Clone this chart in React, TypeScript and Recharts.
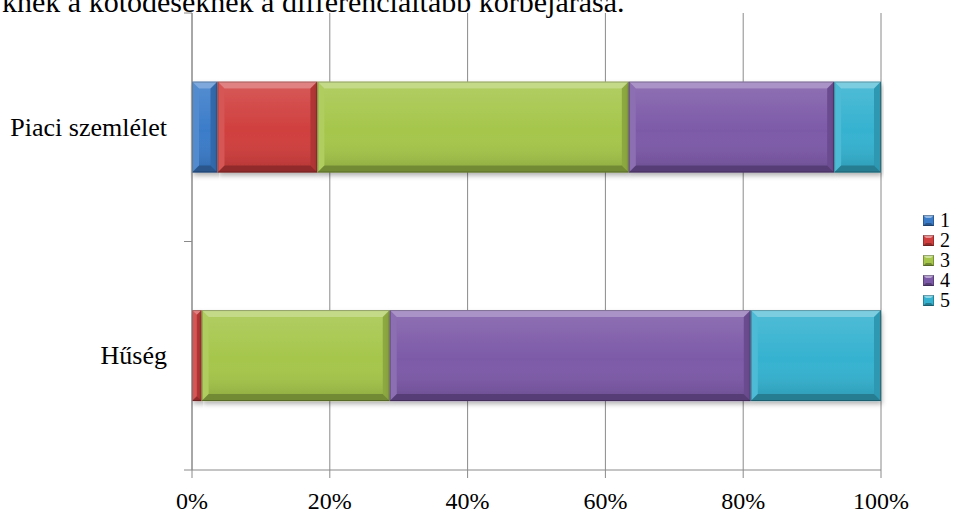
import React from "react";
import { BarChart, Bar, XAxis, YAxis, CartesianGrid } from "recharts";

const categories = ["Piaci szemlélet", "Hűség"];
const seriesNames = ["1", "2", "3", "4", "5"];
const piaciValues = [3.7, 14.5, 45.2, 29.8, 6.8];
const husegValues = [0, 1.4, 27.3, 52.4, 18.9];
const xTicks = [0, 20, 40, 60, 80, 100];
const seriesColors = ["#3B7CC9", "#D03F3E", "#A5C64B", "#7D5AA8", "#35B2D0"];

const values = [piaciValues, husegValues];
const data = categories.map((name, i) => {
  const row: Record<string, string | number> = { name };
  seriesNames.forEach((s, j) => {
    row["s" + s] = values[i][j];
  });
  return row;
});

const W = 958;
const H = 512;
const PLOT_TOP = 13;
const PLOT_BOTTOM = 470;
const AXIS_X = 192;
const FONT = "'Liberation Serif', 'Times New Roman', serif";
const GRID = "#8a8a8a";
const band = (PLOT_BOTTOM - PLOT_TOP) / categories.length;

function BevelRect(props: any) {
  const { x, y, width, height, color } = props;
  if (!width || width <= 0 || !height) return null;
  const b = Math.min(7, width / 2, height / 2);
  const x2 = x + width;
  const y2 = y + height;
  return (
    <g filter="url(#barShadow)">
      <rect x={x} y={y} width={width} height={height} fill={color} />
      <rect
        x={x + b}
        y={y + b}
        width={Math.max(0, width - 2 * b)}
        height={Math.max(0, height - 2 * b)}
        fill="url(#faceShade)"
      />
      <polygon
        points={`${x},${y} ${x2},${y} ${x2 - b},${y + b} ${x + b},${y + b}`}
        fill="#fff"
        fillOpacity={0.35}
      />
      <polygon
        points={`${x},${y} ${x + b},${y + b} ${x + b},${y2 - b} ${x},${y2}`}
        fill="#fff"
        fillOpacity={0.12}
      />
      <polygon
        points={`${x2},${y} ${x2},${y2} ${x2 - b},${y2 - b} ${x2 - b},${y + b}`}
        fill="#000"
        fillOpacity={0.15}
      />
      <polygon
        points={`${x},${y2} ${x + b},${y2 - b} ${x2 - b},${y2 - b} ${x2},${y2}`}
        fill="#000"
        fillOpacity={0.3}
      />
      <rect
        x={x + 0.5}
        y={y + 0.5}
        width={Math.max(0, width - 1)}
        height={height - 1}
        fill="none"
        stroke="#000"
        strokeOpacity={0.25}
      />
    </g>
  );
}

// category label plus the tick marks at the band edges
function CategoryTick(props: any) {
  const { x, y, payload } = props;
  return (
    <g>
      <line x1={AXIS_X - 8} x2={AXIS_X} y1={y - band / 2} y2={y - band / 2} stroke={GRID} />
      <line x1={AXIS_X - 8} x2={AXIS_X} y1={y + band / 2} y2={y + band / 2} stroke={GRID} />
      <text x={x} y={y} dy="0.32em" textAnchor="end" style={{ fontFamily: FONT, fontSize: 26 }} fill="#000">
        {payload.value}
      </text>
    </g>
  );
}

function LegendBox({ color }: { color: string }) {
  return (
    <svg width={11} height={11} style={{ display: "block" }}>
      <rect x={0} y={0} width={11} height={11} fill={color} />
      <polygon points="0,0 11,0 8,3 3,3" fill="#fff" fillOpacity={0.45} />
      <polygon points="0,11 3,8 8,8 11,11" fill="#000" fillOpacity={0.3} />
      <rect x={0.5} y={0.5} width={10} height={10} fill="none" stroke="#000" strokeOpacity={0.25} />
    </svg>
  );
}

export default function App() {
  return (
    <div
      style={{
        position: "absolute",
        left: 0,
        top: 0,
        width: W,
        height: H,
        overflow: "hidden",
        background: "#fff",
        fontFamily: FONT,
      }}
    >
      <div
        style={{
          position: "absolute",
          left: 2,
          top: -13,
          fontSize: 30,
          lineHeight: "30px",
          whiteSpace: "nowrap",
          color: "#000",
        }}
      >
        knek a kötődéseknek a differenciáltabb körbejárása.
      </div>
      <BarChart
        width={W}
        height={H}
        data={data}
        layout="vertical"
        barCategoryGap="30%"
        margin={{ top: PLOT_TOP, right: W - 881, bottom: 0, left: 0 }}
      >
        <defs>
          <linearGradient id="faceShade" x1="0" y1="0" x2="0" y2="1">
            <stop offset="0%" stopColor="#fff" stopOpacity={0.12} />
            <stop offset="55%" stopColor="#fff" stopOpacity={0} />
            <stop offset="100%" stopColor="#000" stopOpacity={0.1} />
          </linearGradient>
          <filter id="barShadow" x="-5%" y="-10%" width="110%" height="135%">
            <feDropShadow dx="1" dy="3" stdDeviation="2.5" floodColor="#000" floodOpacity={0.3} />
          </filter>
        </defs>
        <CartesianGrid horizontal={false} stroke={GRID} />
        <XAxis
          type="number"
          domain={[0, 100]}
          ticks={xTicks}
          tickFormatter={(v) => `${v}%`}
          height={H - PLOT_BOTTOM}
          axisLine={{ stroke: GRID }}
          tickLine={{ stroke: GRID }}
          tickSize={8}
          tickMargin={14}
          tick={{ fontSize: 24, fill: "#000", style: { fontFamily: FONT } }}
        />
        <YAxis
          type="category"
          dataKey="name"
          width={AXIS_X}
          axisLine={{ stroke: GRID }}
          tickLine={false}
          tickSize={8}
          tickMargin={17}
          tick={<CategoryTick />}
          interval={0}
        />
        {seriesNames.map((s, i) => (
          <Bar
            key={s}
            dataKey={"s" + s}
            name={s}
            stackId="a"
            fill={seriesColors[i]}
            isAnimationActive={false}
            shape={(p: any) => <BevelRect {...p} color={seriesColors[i]} />}
          />
        ))}
      </BarChart>
      <div style={{ position: "absolute", left: 923, top: 210, fontSize: 20 }}>
        {seriesNames.map((s, i) => (
          <div key={s} style={{ display: "flex", alignItems: "center", height: 20 }}>
            <LegendBox color={seriesColors[i]} />
            <span style={{ marginLeft: 6, lineHeight: "20px" }}>{s}</span>
          </div>
        ))}
      </div>
    </div>
  );
}
